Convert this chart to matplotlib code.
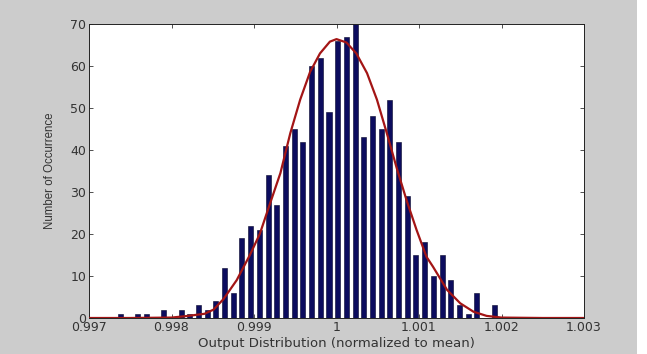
import matplotlib.pyplot as plt
from matplotlib.patches import Rectangle

# histogram bins (centres, normalised output) and counts
bin_centres = [0.997378, 0.997589, 0.997694, 0.997905, 0.998116, 0.998221, 0.998327,
               0.998432, 0.998538, 0.998643, 0.998749, 0.998854, 0.998960, 0.999065,
               0.999171, 0.999276, 0.999381, 0.999487, 0.999592, 0.999698, 0.999803,
               0.999909, 1.000014, 1.000120, 1.000225, 1.000331, 1.000436, 1.000542,
               1.000647, 1.000752, 1.000858, 1.000963, 1.001069, 1.001174, 1.001280,
               1.001385, 1.001491, 1.001596, 1.001702, 1.001912]
counts = [1, 1, 1, 2, 2, 1, 3, 2, 4, 12, 6, 19, 22, 21, 34, 27, 41, 45, 42, 60,
          62, 49, 66, 67, 70, 43, 48, 45, 52, 42, 29, 15, 18, 10, 15, 9, 3, 1, 6, 3]
bin_width = 0.000105

# fitted normal curve
fit_x = [0.997, 0.9975, 0.998, 0.9982, 0.9984, 0.99851, 0.99863, 0.99879, 0.99895,
         0.99907, 0.99919, 0.99932, 0.99944, 0.99956, 0.99968, 0.99980, 0.99992,
         1.00000, 1.00012, 1.00024, 1.00037, 1.00049, 1.00061, 1.00073, 1.00085,
         1.00097, 1.00109, 1.00117, 1.00134, 1.00150, 1.00166, 1.00182, 1.0020,
         1.0025, 1.003]
fit_y = [0, 0, 0.1, 0.5, 1.0, 2, 4.5, 9, 15, 20, 27, 34.5, 44, 52, 58.6, 63, 65.8,
         66.4, 65.6, 63, 58.3, 52, 44, 35.7, 28, 21, 14.6, 12.2, 6.7, 3.5, 1.5, 0.5,
         0.1, 0, 0]

xticks = [0.997, 0.998, 0.999, 1.0, 1.001, 1.002, 1.003]
xticklabels = ["0.997", "0.998", "0.999", "1", "1.001", "1.002", "1.003"]
yticks = [0, 10, 20, 30, 40, 50, 60, 70]

plt.rcParams["font.family"] = ["DejaVu Sans"]

fig = plt.figure(figsize=(6.47, 3.54), dpi=100, facecolor="#cccccc")
fig.patches.append(Rectangle((637 / 647, 0), 10 / 647, 1, transform=fig.transFigure,
                             facecolor="white", edgecolor="none", zorder=-1))
ax = fig.add_axes([89 / 647, 36 / 354, 495 / 647, 294 / 354])

ax.bar(bin_centres, counts, width=bin_width * 0.58, color="#0c0c5e",
       edgecolor="#05052a", linewidth=0.4, zorder=2)
ax.plot(fit_x, fit_y, color="#a31515", linewidth=1.6, zorder=3)

ax.set_xlim(0.997, 1.003)
ax.set_ylim(0, 70)
ax.set_xticks(xticks)
ax.set_xticklabels(xticklabels)
ax.set_yticks(yticks)
ax.tick_params(direction="in", top=True, right=True, length=3, width=0.6,
               labelsize=9, colors="#333333", pad=2)
for s in ax.spines.values():
    s.set_linewidth(0.7)
    s.set_color("#222222")

ax.set_xlabel("Output Distribution (normalized to mean)", fontsize=9.5,
              color="#333333", labelpad=2)
ax.set_ylabel("Number of Occurrence", fontsize=8.3, color="#333333",
              family=["Liberation Sans Narrow", "Liberation Sans"], labelpad=10)

plt.savefig("out.png", dpi=100, facecolor=fig.get_facecolor())
